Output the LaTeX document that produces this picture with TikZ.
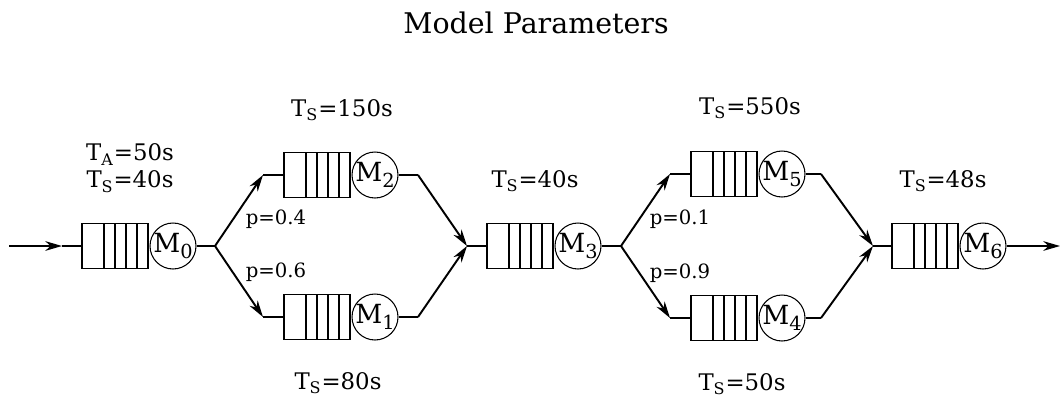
\documentclass[tikz,border=0pt]{standalone}
\usepackage{fontspec}
\setmainfont{DejaVu Serif}
\usetikzlibrary{arrows.meta}
\newcommand{\lowsub}[1]{\raisebox{-3pt}{\fontsize{11}{11}\selectfont #1}}

\begin{document}
\begin{tikzpicture}[x=0.02cm,y=-0.02cm,every node/.style={font=\fontsize{13}{15.2}\selectfont}]
  \tikzset{
    buf/.style={draw,line width=0.8pt,fill=white,minimum width=1.32cm,minimum height=0.9cm,inner sep=0pt},
    slot/.style={line width=0.8pt},
    srv/.style={circle,draw,line width=0.6pt,fill=white,minimum size=0.92cm,inner sep=0pt,font=\fontsize{15}{15}\selectfont},
    flow/.style={line width=1.1pt},
    arr/.style={flow,-{Stealth[length=9.5pt,width=5.5pt,inset=3pt]}},
    prob/.style={font=\fontsize{11.2}{13}\selectfont}
  }
  \useasboundingbox (0,0) rectangle (1062,396);
  \node (title) at (536,23) {\fontsize{16.2}{19}\selectfont Model Parameters};
  % queues with their servers
  \foreach \i/\x/\y in {0/82/246,2/284/175,1/284/317,3/487/246,5/691/174,4/691/318,6/892/246} {
    \node[buf] (q\i) at (\x+33,\y) {};
    \foreach \k in {22,33,44,55}
      \draw[slot] (\x+\k,\y-22.5) -- (\x+\k,\y+22.5);
    \node[srv] (m\i) at (\x+91,\y) {\makebox[0pt]{M\lowsub{\i}}};
  }
  \coordinate (in) at (9,246);
  \coordinate (inmid) at (62,246);
  \coordinate (s1) at (215,246);
  \coordinate (b2) at (263,175);
  \coordinate (b1) at (263,317);
  \coordinate (c2) at (418,175);
  \coordinate (c1) at (418,317);
  \coordinate (j1) at (467,246);
  \coordinate (s2) at (621,246);
  \coordinate (b5) at (670,174);
  \coordinate (b4) at (670,318);
  \coordinate (c5) at (821,174);
  \coordinate (c4) at (821,318);
  \coordinate (j2) at (873,246);
  \coordinate (out) at (1060,246);
  \draw[arr] (in) -- (inmid);
  \draw[flow] (inmid) -- (q0.west);
  \draw[flow] (m0.east) -- (s1);
  \draw[arr] (s1) -- (b2);
  \draw[arr] (s1) -- (b1);
  \draw[flow] (b2) -- (q2.west);
  \draw[flow] (b1) -- (q1.west);
  \draw[flow] (m2.east) -- (c2);
  \draw[flow] (m1.east) -- (c1);
  \draw[arr] (c2) -- (j1);
  \draw[arr] (c1) -- (j1);
  \draw[flow] (j1) -- (q3.west);
  \draw[flow] (m3.east) -- (s2);
  \draw[arr] (s2) -- (b5);
  \draw[arr] (s2) -- (b4);
  \draw[flow] (b5) -- (q5.west);
  \draw[flow] (b4) -- (q4.west);
  \draw[flow] (m5.east) -- (c5);
  \draw[flow] (m4.east) -- (c4);
  \draw[arr] (c5) -- (j2);
  \draw[arr] (c4) -- (j2);
  \draw[flow] (j2) -- (q6.west);
  \draw[arr] (m6.east) -- (out);
  % parameters
  \node[align=center] (par0) at (130,168) {T\textsubscript{A}=50s\\T\textsubscript{S}=40s};
  \node (par2) at (342,110) {T\textsubscript{S}=150s};
  \node (par1) at (338,383) {T\textsubscript{S}=80s};
  \node (par3) at (535,181) {T\textsubscript{S}=40s};
  \node (par5) at (750,108) {T\textsubscript{S}=550s};
  \node (par4) at (742,384) {T\textsubscript{S}=50s};
  \node (par6) at (943,181) {T\textsubscript{S}=48s};
  \node[prob] (p2) at (276,219) {p=0.4};
  \node[prob] (p1) at (276,272) {p=0.6};
  \node[prob] (p5) at (680,219) {p=0.1};
  \node[prob] (p4) at (680,273) {p=0.9};
\end{tikzpicture}
\end{document}
